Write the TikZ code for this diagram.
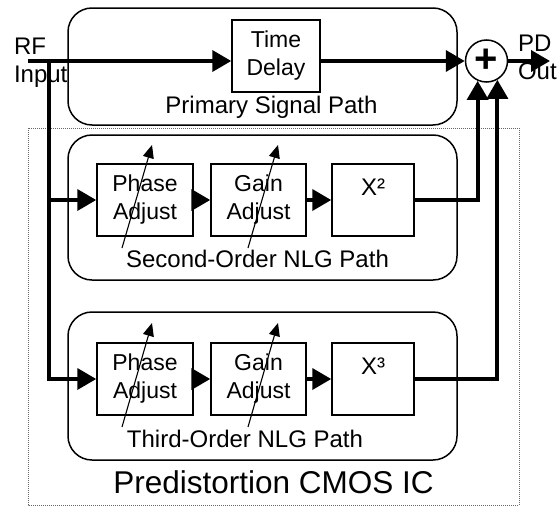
\documentclass[tikz,border=0pt]{standalone}
\usepackage{fontspec}
\setmainfont{Liberation Sans}
\usetikzlibrary{arrows.meta}
\tikzset{
  blk/.style={draw, line width=1.5pt, minimum height=72pt, inner sep=0pt, align=center,
    font=\fontsize{23}{28}\selectfont},
  pathbox/.style={draw, line width=1.5pt, rounded corners=24pt, minimum width=389pt, inner sep=0pt},
  sig/.style={line width=3.8pt, -{Triangle[length=19pt,width=21pt]}},
  tune/.style={line width=1.1pt, -{Triangle[length=13pt,width=11pt]}},
  lbl/.style={anchor=base, inner sep=0pt, outer sep=0pt, font=\fontsize{24}{28}\selectfont}
}
\begin{document}
\begin{tikzpicture}[x=1pt,y=-1pt]
\path[use as bounding box,fill=white] (0,0) rectangle (559,506);
\draw[black!60, densely dotted, line width=1pt] (28,128) rectangle (519,505);

\node[pathbox, minimum height=117pt] (prim) at (262.5,66.5) {};
\node[pathbox, minimum height=145pt] (nlg2) at (262.5,207.5) {};
\node[pathbox, minimum height=148pt] (nlg3) at (262.5,386) {};

\node[blk, minimum width=88pt] (td) at (276,56) {Time\\Delay};
\node[draw, circle, line width=1.5pt, minimum size=42pt, inner sep=0pt] (sum) at (486.5,61)
  {\fontsize{40}{40}\selectfont\bfseries +};

\node[blk, minimum width=96pt] (ph2) at (145,200) {Phase\\Adjust};
\node[blk, minimum width=95pt] (ga2) at (258.5,200) {Gain\\Adjust};
\node[blk, minimum width=82pt] (sq2) at (373,200) {};
\node[lbl] (sq2lbl) at (373,195) {X²};

\node[blk, minimum width=96pt] (ph3) at (145,379) {Phase\\Adjust};
\node[blk, minimum width=95pt] (ga3) at (258.5,379) {Gain\\Adjust};
\node[blk, minimum width=82pt] (cu3) at (373,379) {};
\node[lbl] (cu3lbl) at (373,374) {X³};

\node[lbl, anchor=north west, align=left] (rflbl) at (14,38) {RF\\Input};
\node[lbl, anchor=north west, align=left] (pdlbl) at (518,35) {PD\\Out};
\node[lbl] (primlbl) at (271.5,113) {Primary Signal Path};
\node[lbl] (nlg2lbl) at (257.5,267) {Second-Order NLG Path};
\node[lbl] (nlg3lbl) at (245,447) {Third-Order NLG Path};
\node[lbl, font=\fontsize{31.5}{36}\selectfont] (iclbl) at (273.5,493) {Predistortion CMOS IC};

\coordinate (rfin) at (28,61);
\coordinate (split) at (49,61);
\coordinate (pdout) at (550,61);

\draw[sig] (rfin) -- (rfin -| td.west);
\draw[sig] (td.east |- rfin) -- (sum.west);
\draw[sig] (sum.east) -- (pdout);
\draw[sig] (split) |- (ph3.west);
\draw[sig] (split |- ph2.west) -- (ph2.west);
\draw[sig] (ph2) -- (ga2);
\draw[sig] (ga2) -- (sq2);
\draw[sig] (ph3) -- (ga3);
\draw[sig] (ga3) -- (cu3);
\draw[sig] (sq2.east) -| (sum.246);
\draw[sig] (cu3.east) -| (sum.300);

\draw[tune] ([shift={(-23,48)}]ph2.center) -- ([shift={(7,-55)}]ph2.center);
\draw[tune] ([shift={(-10.5,48)}]ga2.center) -- ([shift={(19.5,-55)}]ga2.center);
\draw[tune] ([shift={(-23,48)}]ph3.center) -- ([shift={(7,-56)}]ph3.center);
\draw[tune] ([shift={(-10.5,48)}]ga3.center) -- ([shift={(19.5,-56)}]ga3.center);
\end{tikzpicture}
\end{document}
